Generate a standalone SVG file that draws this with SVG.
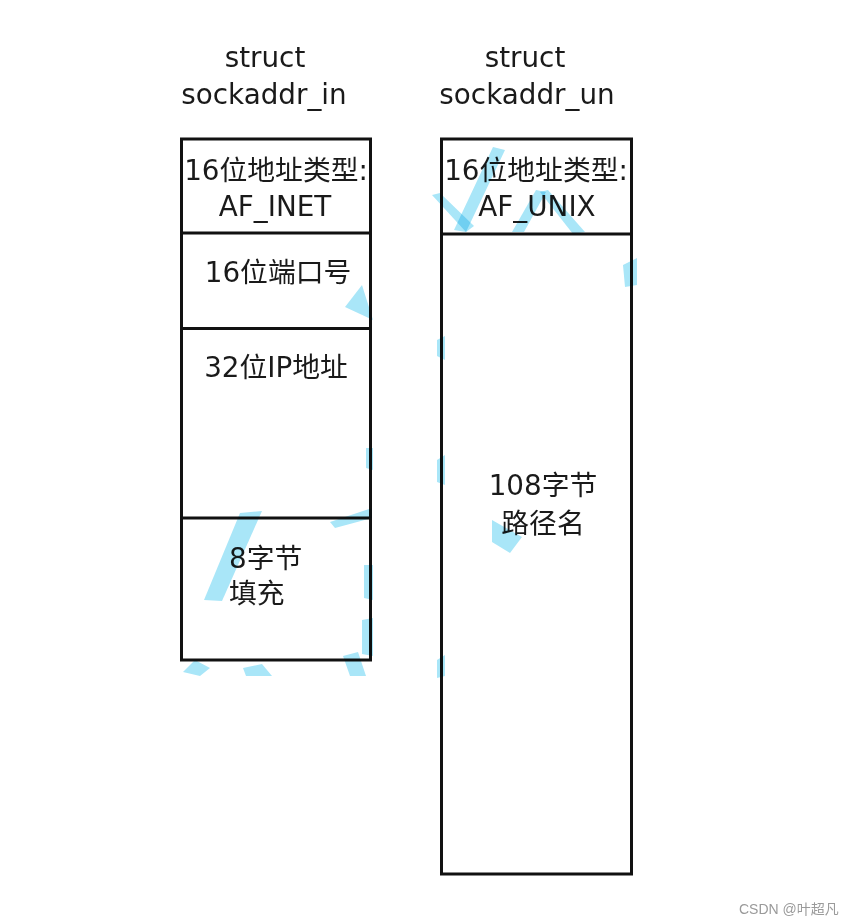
<svg xmlns="http://www.w3.org/2000/svg" width="853" height="924" viewBox="0 0 853 924">
<style>
.t{font-family:"DejaVu Sans","Noto Sans CJK SC",sans-serif;font-size:27.8px;fill:#1a1a1a}
.c{text-anchor:middle}
.box{fill:#ffffff;stroke:#111111;stroke-width:3}
.div{stroke:#111111;stroke-width:3;fill:none}
.wm{fill:#a9e6f8;mix-blend-mode:multiply}
.sig{font-family:"Liberation Sans","Noto Sans CJK SC",sans-serif;font-size:14px;fill:#9a9a9a}
</style>
<rect width="853" height="924" fill="#ffffff"/>
<g id="title_in">
<text class="t c" x="265" y="67">struct</text>
<text class="t c" x="264" y="104">sockaddr_in</text>
</g>
<g id="title_un">
<text class="t c" x="525" y="67">struct</text>
<text class="t c" x="527" y="104">sockaddr_un</text>
</g>
<g id="sockaddr_in">
<rect class="box" x="181.5" y="139" width="189" height="521"/>
<line class="div" x1="181.5" y1="233" x2="370.5" y2="233"/>
<line class="div" x1="181.5" y1="328.5" x2="370.5" y2="328.5"/>
<line class="div" x1="181.5" y1="518" x2="370.5" y2="518"/>
</g>
<g id="in_family">
<text class="t c" x="276" y="180">16位地址类型:</text>
<text class="t c" x="275" y="216">AF_INET</text>
</g>
<g id="in_port">
<text class="t c" x="278" y="282">16位端口号</text>
</g>
<g id="in_addr">
<text class="t c" x="276" y="377">32位IP地址</text>
</g>
<g id="in_zero">
<text class="t" x="229" y="568">8字节</text>
<text class="t" x="229" y="603">填充</text>
</g>
<g id="sockaddr_un">
<rect class="box" x="441.5" y="139" width="190" height="735"/>
<line class="div" x1="441.5" y1="234" x2="631.5" y2="234"/>
</g>
<g id="un_family">
<text class="t c" x="536" y="180">16位地址类型:</text>
<text class="t c" x="537" y="216">AF_UNIX</text>
</g>
<g id="un_path">
<text class="t c" x="543" y="495">108字节</text>
<text class="t c" x="543" y="533">路径名</text>
</g>
<g id="connectors"></g>
<g id="watermark">
<polygon class="wm" points="240,513 262,511 222,601 204,600"/>
<polygon class="wm" points="330,522 372,508 372,518 335,528"/>
<polygon class="wm" points="364,565 373,565 373,600 364,598"/>
<polygon class="wm" points="362,620 373,618 373,656 362,654"/>
<polygon class="wm" points="183,672 195,660 210,668 200,676"/>
<polygon class="wm" points="243,668 262,664 272,676 246,676"/>
<polygon class="wm" points="343,656 358,652 366,676 350,676"/>
<polygon class="wm" points="345,307 362,285 373,320"/>
<polygon class="wm" points="366,448 373,448 373,470 366,468"/>
<polygon class="wm" points="493,147 505,150 466,232 454,230"/>
<polygon class="wm" points="432,195 440,193 474,226 466,232"/>
<polygon class="wm" points="512,232 536,190 546,192 524,232"/>
<polygon class="wm" points="540,192 548,190 585,232 573,234"/>
<polygon class="wm" points="623,265 637,258 637,285 625,287"/>
<polygon class="wm" points="492,520 522,537 510,553 492,542"/>
<polygon class="wm" points="437,340 445,336 445,360 437,356"/>
<polygon class="wm" points="437,460 445,455 445,485 437,482"/>
<polygon class="wm" points="437,660 445,655 445,676 437,678"/>
</g>
<text class="sig" x="739" y="914">CSDN @叶超凡</text>
</svg>
